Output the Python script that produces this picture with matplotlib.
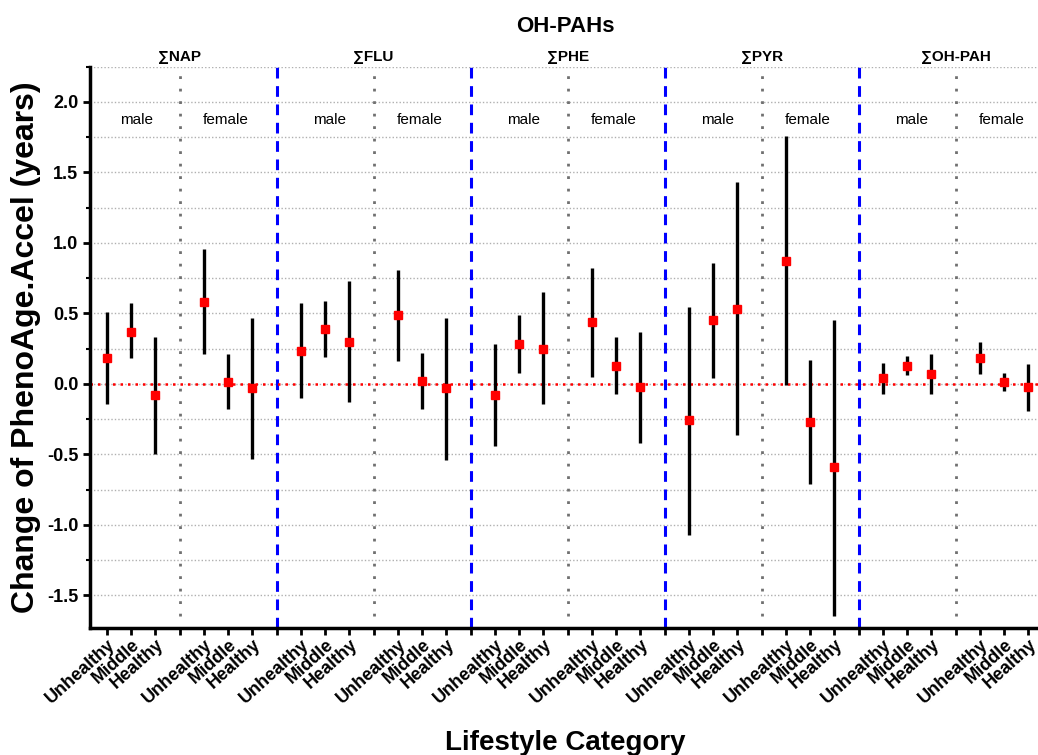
import numpy as np
import matplotlib
matplotlib.use("Agg")
import matplotlib.pyplot as plt
from matplotlib.ticker import MultipleLocator

plt.rcParams['font.family'] = ['Liberation Sans', 'DejaVu Sans']

# --- Data ---
compounds = ["∑NAP", "∑FLU", "∑PHE", "∑PYR", "∑OH-PAH"]
sexes = ["male", "female"]
categories = ["Unhealthy", "Middle", "Healthy"]

# estimate, lower, upper  per compound -> male (3) then female (3)
est = [
    [0.18, 0.37, -0.08, 0.58, 0.01, -0.03],
    [0.23, 0.39, 0.30, 0.49, 0.02, -0.03],
    [-0.08, 0.285, 0.245, 0.44, 0.13, -0.02],
    [-0.26, 0.45, 0.53, 0.87, -0.27, -0.59],
    [0.04, 0.13, 0.07, 0.18, 0.01, -0.02],
]
lower = [
    [-0.14, 0.18, -0.50, 0.21, -0.18, -0.53],
    [-0.10, 0.19, -0.13, 0.16, -0.18, -0.54],
    [-0.44, 0.08, -0.14, 0.05, -0.07, -0.42],
    [-1.07, 0.04, -0.36, -0.01, -0.71, -1.65],
    [-0.07, 0.06, -0.07, 0.07, -0.05, -0.19],
]
upper = [
    [0.51, 0.57, 0.33, 0.96, 0.21, 0.47],
    [0.57, 0.59, 0.73, 0.81, 0.22, 0.47],
    [0.28, 0.49, 0.65, 0.82, 0.33, 0.37],
    [0.545, 0.86, 1.43, 1.76, 0.17, 0.45],
    [0.15, 0.195, 0.21, 0.30, 0.08, 0.14],
]

# --- Positions: 3 male slots, gap, 3 female slots, gap ---
xs, ys, lo, hi = [], [], [], []
tick_pos, tick_lab = [], []
for g in range(len(compounds)):
    base = g * 8
    for s in range(2):
        for c in range(3):
            i = s * 3 + c
            x = base + s * 4 + c
            xs.append(x)
            ys.append(est[g][i])
            lo.append(est[g][i] - lower[g][i])
            hi.append(upper[g][i] - est[g][i])
            tick_pos.append(x)
            tick_lab.append(categories[c])
        if not (g == len(compounds) - 1 and s == 1):
            tick_pos.append(base + s * 4 + 3)
            tick_lab.append("")

fig = plt.figure(figsize=(10.38, 7.55), dpi=100)
ax = fig.add_axes([0.0867, 0.1686, 0.9133, 0.7431])

ax.set_xlim(-0.7, 38.4)
ax.set_ylim(-1.73, 2.25)

# grid
for yv in np.arange(-1.5, 2.26, 0.25):
    ax.axhline(yv, color="#b0b0b0", lw=1.0, ls=(0, (1, 1.5)), zorder=0)

# separators
for g in range(len(compounds)):
    ax.axvline(g * 8 + 3, ymin=0.02, ymax=1, color="#707070", lw=2, ls=(0, (1, 3.5)), zorder=1)
    if g < len(compounds) - 1:
        ax.axvline(g * 8 + 7, color="blue", lw=2.2, ls=(0, (3.5, 2.5)), zorder=1)

ax.axhline(0, color="red", lw=1.8, ls=(0, (1, 2)), zorder=2)

ax.errorbar(xs, ys, yerr=[lo, hi], fmt="s", color="black", ecolor="black",
            elinewidth=2.4, capsize=0, mfc="red", mec="red", ms=5.5, zorder=3)

# annotations
for g, name in enumerate(compounds):
    ax.text(g * 8 + 3, 2.27, name, ha="center", va="bottom", fontsize=11, fontweight="bold")
    ax.text(g * 8 + 1.2, 1.87, sexes[0], ha="center", va="center", fontsize=11)
    ax.text(g * 8 + 4.9, 1.87, sexes[1], ha="center", va="center", fontsize=11)

fig.text(0.545, 0.965, "OH-PAHs", ha="center", va="center", fontsize=16, fontweight="bold")

ax.set_xticks(tick_pos)
ax.set_xticklabels(tick_lab, rotation=42, ha="right", rotation_mode="anchor",
                   fontsize=13, fontweight="bold")
ax.yaxis.set_minor_locator(MultipleLocator(0.25))
ax.set_yticks(np.arange(-1.5, 2.01, 0.5))
ax.set_yticklabels([f"{v:.1f}" for v in np.arange(-1.5, 2.01, 0.5)], fontsize=13, fontweight="bold")
ax.tick_params(axis="both", which="major", length=5, width=2)
ax.tick_params(axis="x", pad=1)
ax.tick_params(axis="y", which="minor", length=3, width=1.5)

for sp in ["top", "right"]:
    ax.spines[sp].set_visible(False)
for sp in ["left", "bottom"]:
    ax.spines[sp].set_linewidth(2.5)

ax.set_ylabel("Change of PhenoAge.Accel (years)", fontsize=23, fontweight="bold", labelpad=4)
fig.text(0.545, 0.016, "Lifestyle Category", ha="center", va="center", fontsize=20, fontweight="bold")

fig.savefig("out.png", dpi=100)
